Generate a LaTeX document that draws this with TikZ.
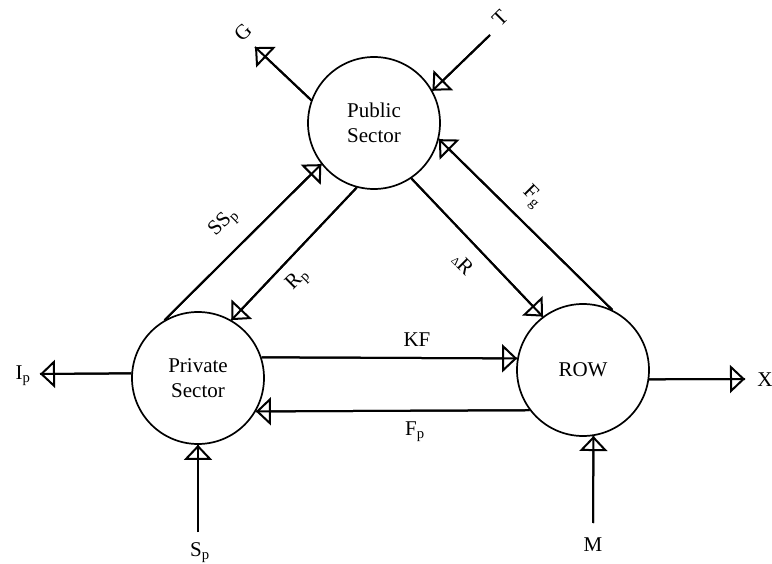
\documentclass[tikz,border=0pt]{standalone}
\usepackage{fontspec}
\setmainfont{Liberation Serif}
\usetikzlibrary{arrows.meta}

\begin{document}
\begin{tikzpicture}[x=1pt,y=-1pt,font=\fontsize{21}{25}\selectfont,
  sector/.style={circle, draw, line width=1.7pt, minimum size=132pt, align=center, inner sep=0pt},
  flow/.style={line width=2pt, -{Triangle[open,length=15pt,width=28pt]}, postaction={draw,-}},
  lbl/.style={inner sep=1pt}]
  \useasboundingbox (0,0) rectangle (772,564);
  \path (374,123) node[sector] (pub){Public\\Sector}
        (198,378) node[sector] (priv){Private\\Sector}
        (583,370) node[sector] (row){ROW};
  % loose ends of the outside flows
  \coordinate (gEnd) at (255,47);
  \coordinate (tStart) at (490,35);
  \coordinate (ipEnd) at (40,374);
  \coordinate (xEnd) at (745,379);
  \coordinate (spStart) at (198,532);
  \coordinate (mStart) at (593,523);
  % flows between the sectors
  \draw[flow] (pub.160) -- (gEnd);
  \draw[flow] (tStart) -- (pub.29);
  \draw[flow] (priv.120) -- (pub.218);
  \draw[flow] (pub.255) -- (priv.60);
  \draw[flow] (pub.304) -- (row.127);
  \draw[flow] (row.64) -- (pub.346);
  \draw[flow] (priv.18) -- (row.170);
  \draw[flow] (row.217) -- (priv.330);
  \draw[flow] (priv.176) -- (ipEnd);
  \draw[flow] (row.352) -- (xEnd);
  \draw[flow] (spStart) -- (priv.south);
  \draw[flow] (mStart) -- (row.279);
  % labels
  \path (243,32) node[lbl,rotate=45] (gLbl){G}
        (500,18) node[lbl,rotate=45] (tLbl){T}
        (224,223) node[lbl,rotate=45] (ssLbl){SS\textsubscript{p}}
        (298,280) node[lbl,rotate=45] (rLbl){R\textsubscript{p}}
        (463,264) node[lbl,rotate=-45] (dLbl){{\fontsize{11}{11}\selectfont Δ}R}
        (532,197) node[lbl,rotate=-45] (fgLbl){F\textsubscript{g}}
        (417,340) node[lbl] (kfLbl){KF}
        (415,432) node[lbl] (fpLbl){F\textsubscript{p}}
        (23,376) node[lbl] (ipLbl){I\textsubscript{p}}
        (765,380) node[lbl] (xLbl){X}
        (200,553) node[lbl] (spLbl){S\textsubscript{p}}
        (593,545) node[lbl] (mLbl){M};
\end{tikzpicture}
\end{document}
